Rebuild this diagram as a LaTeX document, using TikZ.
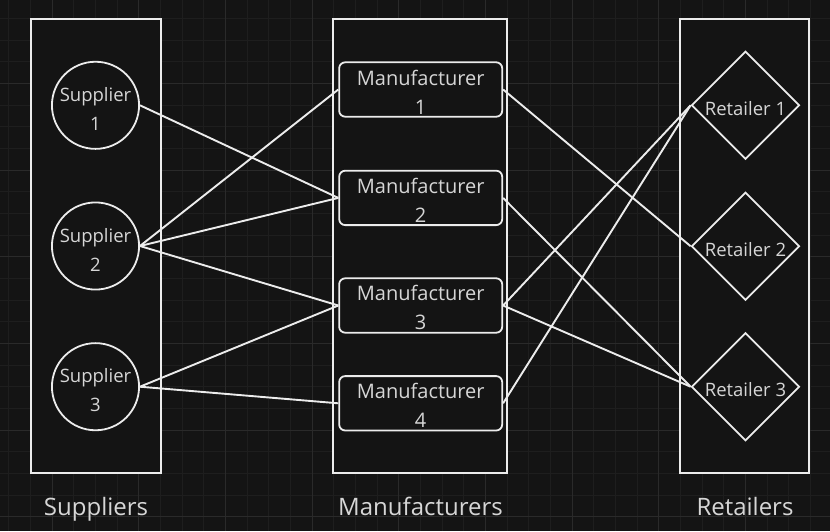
\documentclass[tikz,border=0pt]{standalone}
\usepackage{fontspec}
\setmainfont{Open Sans}
\usetikzlibrary{shapes.geometric}
\definecolor{myBg}{RGB}{20,20,20}
\definecolor{myGridMinor}{RGB}{30,30,30}
\definecolor{myGridMajor}{RGB}{42,42,42}
\definecolor{myLine}{RGB}{236,236,236}
\definecolor{myText}{RGB}{214,214,214}

\begin{document}
\begin{tikzpicture}[x=1pt,y=-1pt,
		gridMinor/.style={myGridMinor, line width=1pt},
		gridMajor/.style={myGridMajor, line width=1pt},
		group/.style={draw=myLine, fill=myBg, line width=2pt, inner sep=0pt},
		supplier/.style={draw=myLine, line width=1.8pt, circle, minimum size=87pt, inner sep=0pt, text=myText, align=center, text height=50pt, font=\fontsize{18.5}{29}\selectfont},
		manufacturer/.style={draw=myLine, line width=1.8pt, rounded corners=6pt, minimum width=163pt, minimum height=54.4pt, inner sep=0pt, text=myText, align=center, text height=49pt, font=\fontsize{20}{29}\selectfont},
		retailer/.style={draw=myLine, line width=1.8pt, diamond, minimum size=108pt, inner sep=0pt, text=myText, text height=20pt, text depth=0pt, font=\fontsize{18.5}{22}\selectfont},
		title/.style={anchor=base, text=myText, font=\fontsize{24}{28}\selectfont},
		link/.style={draw=myLine, line width=1.9pt}]
			\useasboundingbox (0,0) rectangle (830,531);
			\fill[myBg] (0,0) rectangle (830,531);
			% grid
			\foreach \i in {0,...,38} \draw[gridMinor] (8.97+21.667*\i,0) -- (8.97+21.667*\i,531);
			\foreach \j in {0,...,25} \draw[gridMinor] (0,-3.33+21.667*\j) -- (830,-3.33+21.667*\j);
			\foreach \i in {0,...,9} \draw[gridMajor] (52.3+86.667*\i,0) -- (52.3+86.667*\i,531);
			\foreach \j in {0,...,6} \draw[gridMajor] (0,-3.33+86.667*\j) -- (830,-3.33+86.667*\j);
	
			% groups
			\draw (96,246.2) node[group, minimum width=130pt, minimum height=454.3pt] (SupGroup) {};
			\draw (420,246.2) node[group, minimum width=173.4pt, minimum height=454.3pt] (ManGroup) {};
			\draw (744.5,246.2) node[group, minimum width=129pt, minimum height=454.3pt] (RetGroup) {};
	
			\draw (95.5,105.3) node[supplier] (S1) {Supplier\\1};
			\draw (95.5,246) node[supplier] (S2) {Supplier\\2};
			\draw (95.5,386.7) node[supplier] (S3) {Supplier\\3};
	
			\draw (420.7,89.5) node[manufacturer] (M1) {Manufacturer\\1};
			\draw (420.7,197.9) node[manufacturer] (M2) {Manufacturer\\2};
			\draw (420.7,305.5) node[manufacturer] (M3) {Manufacturer\\3};
			\draw (420.7,403.3) node[manufacturer] (M4) {Manufacturer\\4};
	
			\draw (745.5,105.3) node[retailer] (R1) {Retailer 1};
			\draw (745.5,246.2) node[retailer] (R2) {Retailer 2};
			\draw (745.5,386.7) node[retailer] (R3) {Retailer 3};
	
			\draw (96,515.7) node[title] (SupTitle) {Suppliers};
			\draw (420.5,515.7) node[title] (ManTitle) {Manufacturers};
			\draw (745,515.7) node[title] (RetTitle) {Retailers};
	
			\path[link]
			(S1.east) edge (M2.west)
			(S2.east) edge (M1.west)
			(S2.east) edge (M2.west)
			(S2.east) edge (M3.west)
			(S3.east) edge (M3.west)
			(S3.east) edge (M4.west)
			(M1.east) edge (R2.west)
			(M2.east) edge (R3.west)
			(M3.east) edge (R1.west)
			(M3.east) edge (R3.west)
			(M4.east) edge (R1.west)
			;
		\end{tikzpicture}
\end{document}
